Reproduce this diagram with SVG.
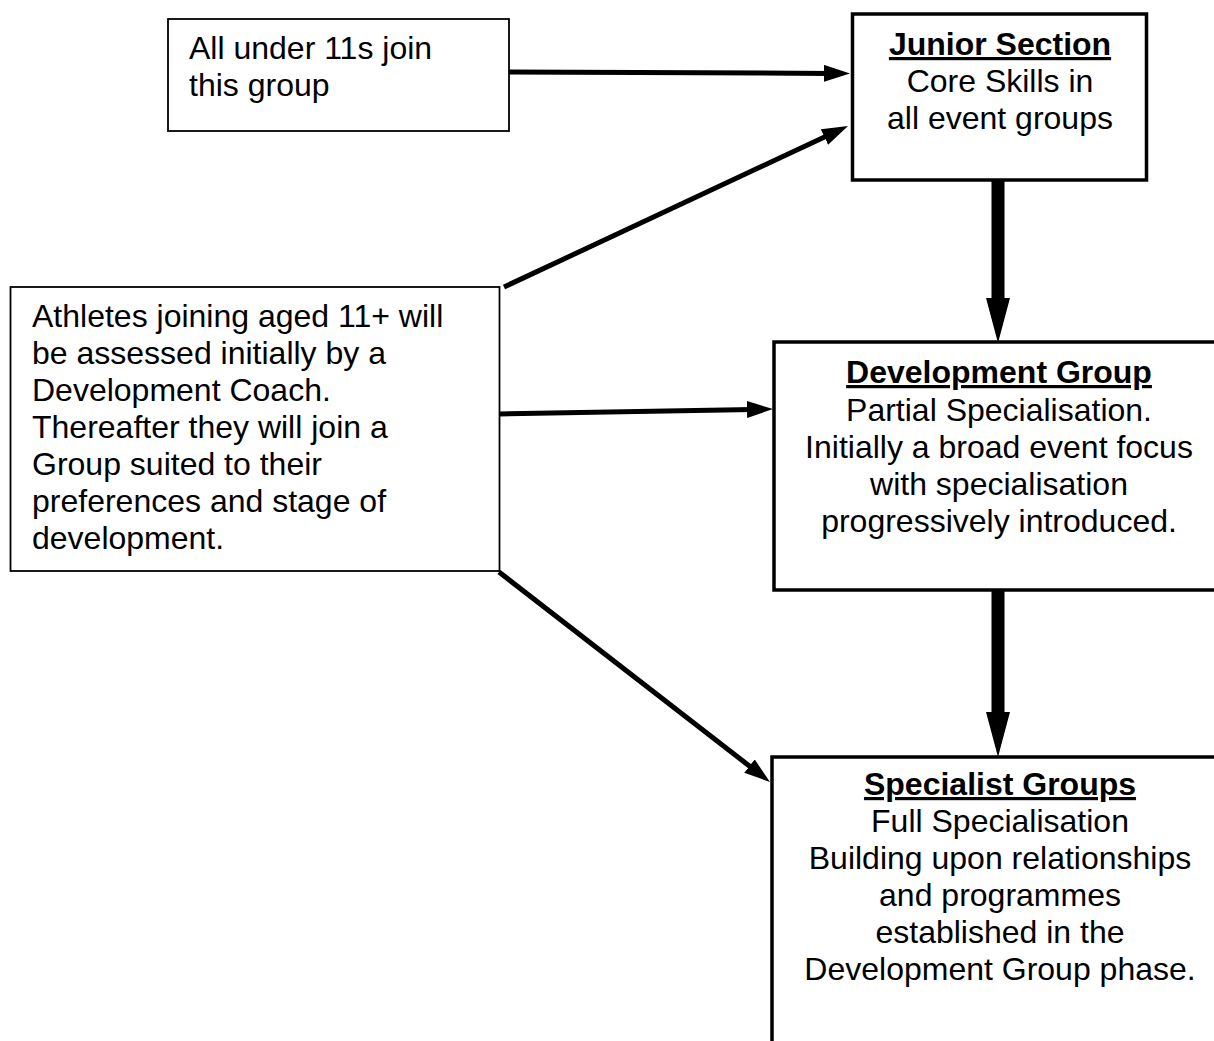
<svg xmlns="http://www.w3.org/2000/svg" width="1214" height="1041" viewBox="0 0 1214 1041">
<style>
text{font-family:"Liberation Sans",Arial,sans-serif;font-size:32px;fill:#000}
.c{text-anchor:middle}
.t{font-weight:bold;text-decoration:underline}
.thin{fill:#fff;stroke:#000;stroke-width:1.8}
.thick{fill:#fff;stroke:#000;stroke-width:3.5}
.ln{stroke:#000;stroke-width:5;fill:none}
.big{stroke:#000;stroke-width:13;fill:none}
</style>
<defs>
<marker id="ah" markerUnits="userSpaceOnUse" viewBox="0 0 26 17" markerWidth="26" markerHeight="17" refX="6" refY="8.5" orient="auto"><path d="M0,0 L26,8.5 L0,17 Z" fill="#000"/></marker>
<marker id="bh" markerUnits="userSpaceOnUse" viewBox="0 0 45 24" markerWidth="45" markerHeight="24" refX="15" refY="12" orient="auto"><path d="M0,0 L45,12 L0,24 Z" fill="#000"/></marker>
</defs>
<g id="connectors">
<line class="ln" x1="509" y1="72" x2="830" y2="73.4" marker-end="url(#ah)"/>
<line class="ln" x1="504" y1="287" x2="829.9" y2="134.5" marker-end="url(#ah)"/>
<line class="ln" x1="499" y1="414" x2="753" y2="409.4" marker-end="url(#ah)"/>
<line class="ln" x1="499" y1="572" x2="754.2" y2="769.75" marker-end="url(#ah)"/>
<line class="big" x1="998" y1="180" x2="998" y2="313" marker-end="url(#bh)"/>
<line class="big" x1="998" y1="590" x2="998" y2="727" marker-end="url(#bh)"/>
</g>
<g id="under11">
<rect class="thin" x="168" y="19" width="341" height="112"/>
<text x="189" y="59">All under 11s join</text>
<text x="189" y="96">this group</text>
</g>
<g id="junior">
<rect class="thick" x="852.5" y="14" width="294" height="166"/>
<text class="c t" x="1000" y="55">Junior Section</text>
<text class="c" x="1000" y="92">Core Skills in</text>
<text class="c" x="1000" y="129">all event groups</text>
</g>
<g id="athletes">
<rect class="thin" x="10.5" y="287" width="489" height="284"/>
<text x="32" y="327">Athletes joining aged 11+ will</text>
<text x="32" y="364">be assessed initially by a</text>
<text x="32" y="401">Development Coach.</text>
<text x="32" y="438">Thereafter they will join a</text>
<text x="32" y="475">Group suited to their</text>
<text x="32" y="512">preferences and stage of</text>
<text x="32" y="549">development.</text>
</g>
<g id="development">
<rect class="thick" x="774" y="342" width="460" height="248"/>
<text class="c t" x="999" y="383">Development Group</text>
<text class="c" x="999" y="421">Partial Specialisation.</text>
<text class="c" x="999" y="458">Initially a broad event focus</text>
<text class="c" x="999" y="495">with specialisation</text>
<text class="c" x="999" y="532">progressively introduced.</text>
</g>
<g id="specialist">
<rect class="thick" x="772" y="757" width="470" height="300"/>
<text class="c t" x="1000" y="795">Specialist Groups</text>
<text class="c" x="1000" y="832">Full Specialisation</text>
<text class="c" x="1000" y="869">Building upon relationships</text>
<text class="c" x="1000" y="906">and programmes</text>
<text class="c" x="1000" y="943">established in the</text>
<text class="c" x="1000" y="980">Development Group phase.</text>
</g>
</svg>
